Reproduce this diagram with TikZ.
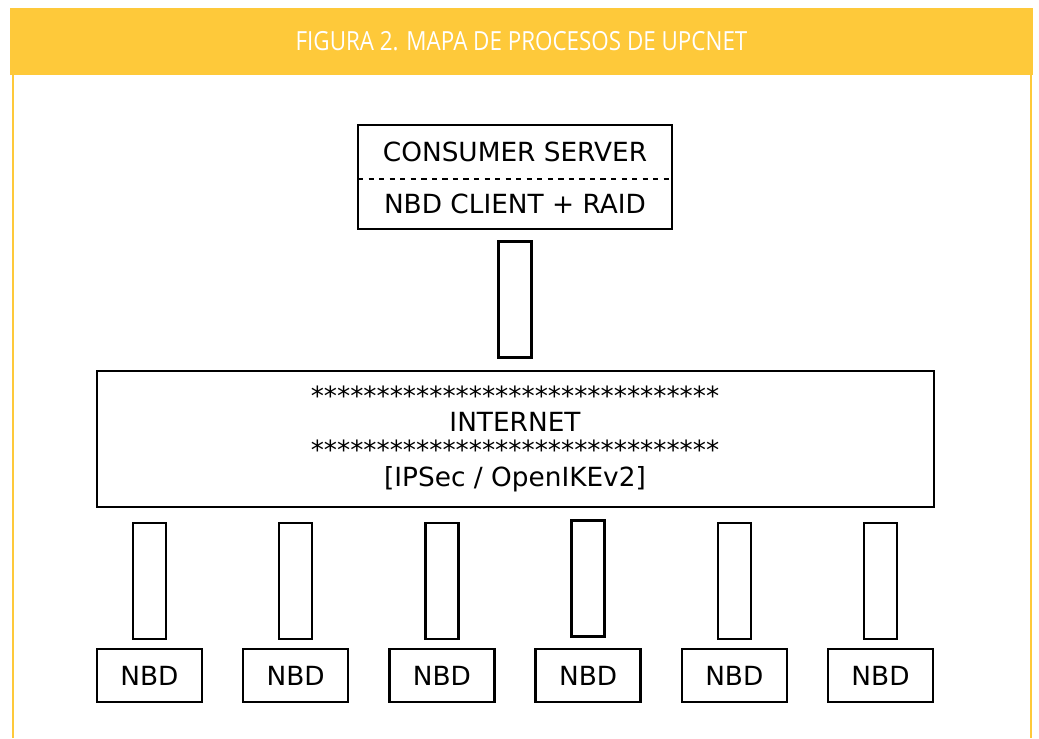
\documentclass[tikz,border=0pt]{standalone}
\usepackage{fontspec}
\setmainfont{DejaVu Sans}
\newfontfamily\titlefont[FakeStretch=0.85]{Open Sans}
\usetikzlibrary{positioning}
\definecolor{bandyellow}{RGB}{254,201,58}

\tikzset{
  box/.style={draw, rectangle, line width=1.3pt, inner sep=0pt},
  link/.style={box, minimum width=0.66cm, minimum height=2.32cm},
  nbdbox/.style={box, minimum width=2.1cm, minimum height=1.06cm},
  label/.style={font=\fontsize{15}{18}\selectfont, inner sep=0pt}
}

\begin{document}
\begin{tikzpicture}[x=0.02cm, y=-0.02cm]
\useasboundingbox (0,0) rectangle (1039,738);
% header band and frame
\fill[bandyellow] (10,8) rectangle (1033,75);
\draw[bandyellow, line width=1.2pt] (13,75) -- (13,738);
\draw[bandyellow, line width=1.2pt] (1031,75) -- (1031,738);
\node[text=white, font=\titlefont\fontsize{15}{18}\selectfont] (title) at (521.5,41) {FIGURA 2. MAPA DE PROCESOS DE UPCNET};

% consumer server
\node[box, minimum width=6.28cm, minimum height=2.08cm] (server) at (515,177) {};
\draw[dashed, line width=0.8pt] (358,179) -- (672,179);
\node[label] (srvtop) at (515,152) {CONSUMER SERVER};
\node[label] (srvbot) at (515,204) {NBD CLIENT + RAID};
\node[link] (uplink) at (515,299.5) {};

% internet
\node[box, minimum width=16.74cm, minimum height=2.72cm] (net) at (515.5,439) {};
\node[label] (stars1) at (515,396) {*******************************};
\node[label] (inet) at (515,422) {INTERNET};
\node[label] (stars2) at (515,450) {*******************************};
\node[label] (ipsec) at (515,479) {[IPSec / OpenIKEv2]};

% storage nodes
\foreach \i/\dy in {0/0,1/0,2/0,3/-2.5,4/0,5/0} {
  \node[link] (link\i) at ({149.5+146.2*\i},{581+\dy}) {};
  \node[nbdbox, label] (nbd\i) at ({149.5+146.2*\i},675.5) {NBD};
}
\end{tikzpicture}
\end{document}
